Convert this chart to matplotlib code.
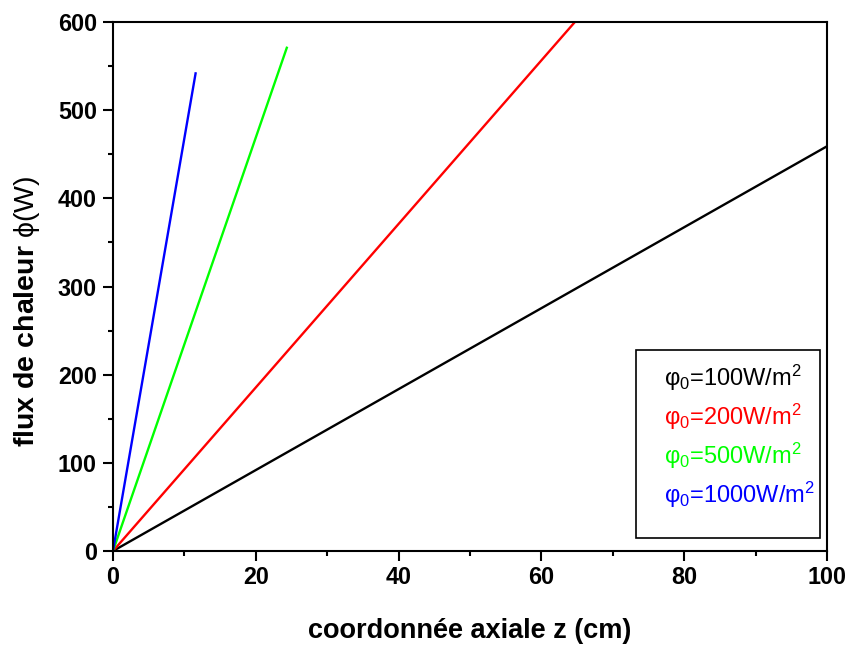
import matplotlib
matplotlib.use("Agg")
import matplotlib.pyplot as plt
from matplotlib.lines import Line2D
from matplotlib.patches import Rectangle
from matplotlib.ticker import MultipleLocator

plt.rcParams['font.family'] = ['Liberation Sans', 'DejaVu Sans']
plt.rcParams['mathtext.fontset'] = 'custom'
plt.rcParams['mathtext.rm'] = 'Liberation Sans'
plt.rcParams['mathtext.it'] = 'Liberation Sans:italic'
plt.rcParams['mathtext.bf'] = 'Liberation Sans:bold'

# Heat flux along the axial coordinate for several imposed flux densities
z_100 = [0, 100.0]
phi_100 = [0, 459.0]
z_200 = [0, 64.7]
phi_200 = [0, 600.0]
z_500 = [0, 24.4]
phi_500 = [0, 572.0]
z_1000 = [0, 11.6]
phi_1000 = [0, 543.0]

labels = [r"φ$_0$=100W/m$^2$", r"φ$_0$=200W/m$^2$",
          r"φ$_0$=500W/m$^2$", r"φ$_0$=1000W/m$^2$"]
colors = ["#000000", "#ff0000", "#00ff00", "#0000ff"]

fig = plt.figure(figsize=(8.5, 6.46), dpi=100)
ax = fig.add_axes([0.1329, 0.147, 0.840, 0.819])

series = [(z_100, phi_100), (z_200, phi_200), (z_500, phi_500), (z_1000, phi_1000)]
for (z, phi), c in zip(series, colors):
    ax.plot(z, phi, color=c, lw=1.7, solid_capstyle='butt')

ax.set_xlim(0, 100)
ax.set_ylim(0, 600)
ax.xaxis.set_major_locator(MultipleLocator(20))
ax.xaxis.set_minor_locator(MultipleLocator(10))
ax.yaxis.set_major_locator(MultipleLocator(100))
ax.yaxis.set_minor_locator(MultipleLocator(50))
ax.tick_params(which='major', direction='out', length=7, width=1.5,
               labelsize=16.8)
ax.tick_params(axis='x', which='major', pad=4)
ax.tick_params(axis='y', which='major', pad=4.5)
ax.tick_params(which='minor', direction='out', length=3.5, width=1.5)
for lab in ax.get_xticklabels() + ax.get_yticklabels():
    lab.set_fontweight('bold')
for sp in ax.spines.values():
    sp.set_linewidth(1.5)

ax.set_xlabel("coordonnée axiale z (cm)", fontsize=19.5, fontweight='bold', labelpad=21)
ax.set_ylabel(r"$\mathbf{flux\ de\ chaleur}$ ϕ(W)", fontsize=20.5)
ax.yaxis.set_label_coords(-0.099, 0.452)

# Legend: coloured labels only, inside a plain black frame
handles = [Line2D([], [], color=c) for c in colors]
leg = ax.legend(handles, labels, loc='upper left',
                bbox_to_anchor=(0.7717, 0.355), fontsize=17,
                handlelength=0, handletextpad=0, labelspacing=0.36,
                borderpad=0, borderaxespad=0, frameon=False)
for h in leg.legend_handles:
    h.set_visible(False)
for t, c in zip(leg.get_texts(), colors):
    t.set_color(c)
ax.add_patch(Rectangle((0.7325, 0.0246), 0.2577, 0.355, transform=ax.transAxes,
                       fill=False, edgecolor='black', lw=1.2, zorder=5))

fig.savefig("out.png", dpi=100)
